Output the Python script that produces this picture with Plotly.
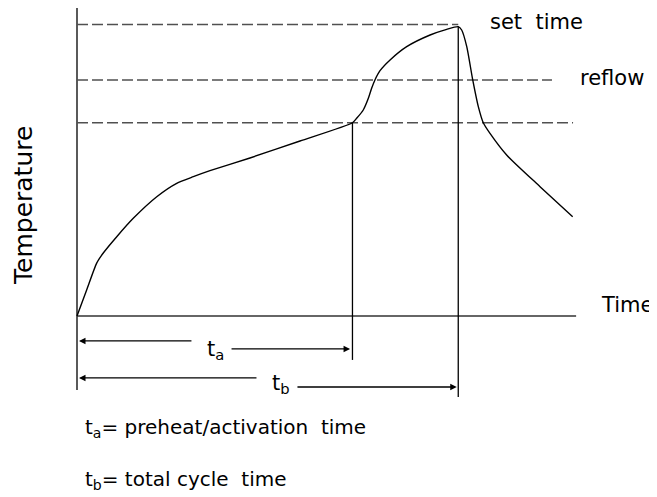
import plotly.graph_objects as go

# ---- data (time in s, temperature in °C) ----
time_s = [0, 7.6, 15.5, 20.7, 31.3, 44.3, 62.8, 78.5, 91.6, 104.7, 136.2, 175.6,
          216.9, 220.2, 225.4, 229.4, 232.0, 234.6, 238.6, 246.5, 259.6, 278.0,
          291.1, 300.2, 302.9, 306.9, 311.6, 316.0, 319.9, 325.2, 338.3, 364.6, 390.3]
temp_c = [0, 22.5, 45.8, 54.5, 68.6, 84.5, 103.2, 114.8, 120.5, 125.7, 136.7, 151.4,
          167.2, 171.0, 178.2, 188.3, 197.0, 204.2, 212.2, 221.5, 233.0, 243.1,
          248.0, 250.3, 247.4, 233.0, 204.2, 181.1, 167.2, 158.0, 139.3, 111.9, 85.9]

level_temps = [252.2, 204.2, 167.2]
level_ends = [300.2, 374.0, 390.6]

t_a = 216.9   # preheat/activation time
t_b = 300.2   # total cycle time

# ---- layout helpers (pixel scale); page body adds an 8px offset ----
OFF = 8
W, H = 657 - OFF, 497 - OFF
SX, SY = 1.27, 1.156          # px per s, px per °C
X0_PX, Y0_PX = 77 - OFF, 316 - OFF   # origin position in figure px
x_range = [-X0_PX / SX, (W - X0_PX) / SX]
y_range = [-(H - Y0_PX) / SY, Y0_PX / SY]

x_axis_end = 393.0
y_axis_top, y_axis_bottom = 267.0, -64.0
ta_line_bottom, tb_line_bottom = -38.0, -70.0
row_ta_left, row_ta_right = -21.6, -28.5
row_tb_left, row_tb_right = -53.6, -61.4

fig = go.Figure()

black = "#000000"
axis_col = "#333333"
dash_col = "#505050"

# axes lines
fig.add_trace(go.Scatter(x=[0, 0], y=[y_axis_top, y_axis_bottom], mode="lines",
                         line=dict(color=black, width=1.3), hoverinfo="skip"))
fig.add_trace(go.Scatter(x=[0, x_axis_end], y=[0, 0], mode="lines",
                         line=dict(color=axis_col, width=1.5), hoverinfo="skip"))

# dashed levels
for T, xe in zip(level_temps, level_ends):
    fig.add_trace(go.Scatter(x=[0, xe], y=[T, T], mode="lines",
                             line=dict(color=dash_col, width=1.5, dash="11px,4px"),
                             hoverinfo="skip"))

# vertical markers
fig.add_trace(go.Scatter(x=[t_a, t_a], y=[level_temps[2], ta_line_bottom], mode="lines",
                         line=dict(color=black, width=1.3), hoverinfo="skip"))
fig.add_trace(go.Scatter(x=[t_b, t_b], y=[temp_c[23], tb_line_bottom], mode="lines",
                         line=dict(color=black, width=1.3), hoverinfo="skip"))

# profile curve
fig.add_trace(go.Scatter(x=time_s, y=temp_c, mode="lines",
                         line=dict(color=black, width=1.4, shape="spline", smoothing=0.6),
                         hoverinfo="skip"))

FONT = "DejaVu Sans"
fs = 21

def arrow(x_head, x_tail, y):
    fig.add_annotation(x=x_head, y=y, ax=x_tail, ay=y, xref="x", yref="y",
                       axref="x", ayref="y", text="", showarrow=True,
                       arrowhead=2, arrowsize=1.0, arrowwidth=1.3, arrowcolor=black)

arrow(1.6, 91.3, row_ta_left)
arrow(215.0, 120.5, row_ta_right)
arrow(1.6, 142.5, row_tb_left)
arrow(299.0, 172.4, row_tb_right)

def label(text, x, y, xanchor="left", angle=0, size=fs):
    fig.add_annotation(x=x, y=y, xref="x", yref="y", text=text, showarrow=False,
                       xanchor=xanchor, yanchor="middle", textangle=angle,
                       font=dict(family=FONT, size=size, color=black))

label("t<sub>a</sub>", 109.4, -29.0, xanchor="center")
label("t<sub>b</sub>", 160.6, -59.0, xanchor="center")
label("set\u00a0 time", 323.6, 254.3)
label("reflow", 394.5, 205.9)
label("Time", 411.0, 9.5)
label("Temperature", -41.7, 95.2, xanchor="center", angle=-90, size=25)
label("t<sub>a</sub>= preheat/activation\u00a0 time", 4.7, -96.9, size=20)
label("t<sub>b</sub>= total cycle\u00a0 time", 4.7, -141.9, size=20)

fig.update_layout(
    width=W, height=H, margin=dict(l=0, r=0, t=0, b=0, pad=0),
    paper_bgcolor="white", plot_bgcolor="white", showlegend=False,
    xaxis=dict(range=x_range, visible=False, fixedrange=True),
    yaxis=dict(range=y_range, visible=False, fixedrange=True),
)

fig.write_html("out.html")
